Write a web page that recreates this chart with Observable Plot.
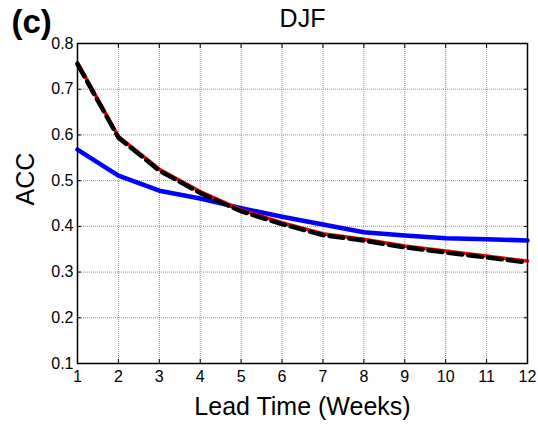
<!DOCTYPE html>
<html><head><meta charset="utf-8">
<script src="https://cdn.jsdelivr.net/npm/d3@7"></script>
<script src="https://cdn.jsdelivr.net/npm/@observablehq/plot@0.6"></script>
<style>body{margin:0;background:#fff;} svg{display:block}</style>
</head><body><div id="chart"></div>
<script>
const weeks = [1,2,3,4,5,6,7,8,9,10,11,12];
const blueACC  = [0.568,0.511,0.478,0.461,0.440,0.421,0.404,0.387,0.380,0.374,0.372,0.369];
const redACC   = [0.758,0.597,0.525,0.476,0.436,0.408,0.384,0.372,0.357,0.346,0.335,0.324];
const blackACC = [0.755,0.594,0.522,0.473,0.433,0.405,0.381,0.369,0.354,0.343,0.332,0.321];
const xTicks = [1,2,3,4,5,6,7,8,9,10,11,12];
const yTicks = [0.1,0.2,0.3,0.4,0.5,0.6,0.7,0.8];
const titleText = "DJF";
const panelText = "(c)";
const xLabel = "Lead Time (Weeks)";
const yLabel = "ACC";

const blue = weeks.map((w,i)=>({w, v: blueACC[i]}));
const red = weeks.map((w,i)=>({w, v: redACC[i]}));
const black = weeks.map((w,i)=>({w, v: blackACC[i]}));

const font = "'Liberation Sans', Arial, sans-serif";
const blank = () => "";
const chart = Plot.plot({
  width: 538, height: 425,
  marginLeft: 77, marginRight: 11, marginTop: 43, marginBottom: 62,
  style: {fontFamily: font, fontSize: "16px", background: "#fff", color: "#000"},
  x: {domain: [1,12]},
  y: {domain: [0.1,0.8]},
  marks: [
    Plot.gridX(xTicks, {stroke: "#666", strokeOpacity: 1, strokeWidth: 0.7, strokeDasharray: "1,1"}),
    Plot.gridY(yTicks, {stroke: "#666", strokeOpacity: 1, strokeWidth: 0.7, strokeDasharray: "1,1"}),
    Plot.line(blue, {x: "w", y: "v", stroke: "#0000ff", strokeWidth: 4.5}),
    Plot.line(red, {x: "w", y: "v", stroke: "#ff0000", strokeWidth: 3.5}),
    Plot.line(black, {x: "w", y: "v", stroke: "#000", strokeWidth: 4.5, strokeDasharray: "14,6"}),
    Plot.frame({stroke: "#000", strokeWidth: 1.5}),
    Plot.axisX(xTicks, {anchor: "bottom", tickSize: -4, tickFormat: blank, label: null}),
    Plot.axisX(xTicks, {anchor: "top", tickSize: -4, tickFormat: blank, label: null}),
    Plot.axisY(yTicks, {anchor: "left", tickSize: -4, tickFormat: blank, label: null}),
    Plot.axisY(yTicks, {anchor: "right", tickSize: -4, tickFormat: blank, label: null}),
    Plot.axisX(xTicks, {tickSize: 0, tickPadding: 7, label: null, tickFormat: d => String(d)}),
    Plot.axisY(yTicks, {tickSize: 0, tickPadding: 4, label: null, tickFormat: d => d.toFixed(1)}),
    Plot.text([titleText], {frameAnchor: "top", dy: -25, fontSize: 25, lineAnchor: "middle"}),
    Plot.text([panelText], {frameAnchor: "top-left", dx: -66, dy: -21, fontSize: 33, fontWeight: "bold", textAnchor: "start", lineAnchor: "middle"}),
    Plot.text([xLabel], {frameAnchor: "bottom", dy: 43, fontSize: 25, lineAnchor: "middle"}),
    Plot.text([yLabel], {frameAnchor: "left", dx: -52, dy: 2, rotate: -90, fontSize: 25, lineAnchor: "middle"})
  ]
});
document.getElementById("chart").appendChild(chart);
</script>
</body></html>
